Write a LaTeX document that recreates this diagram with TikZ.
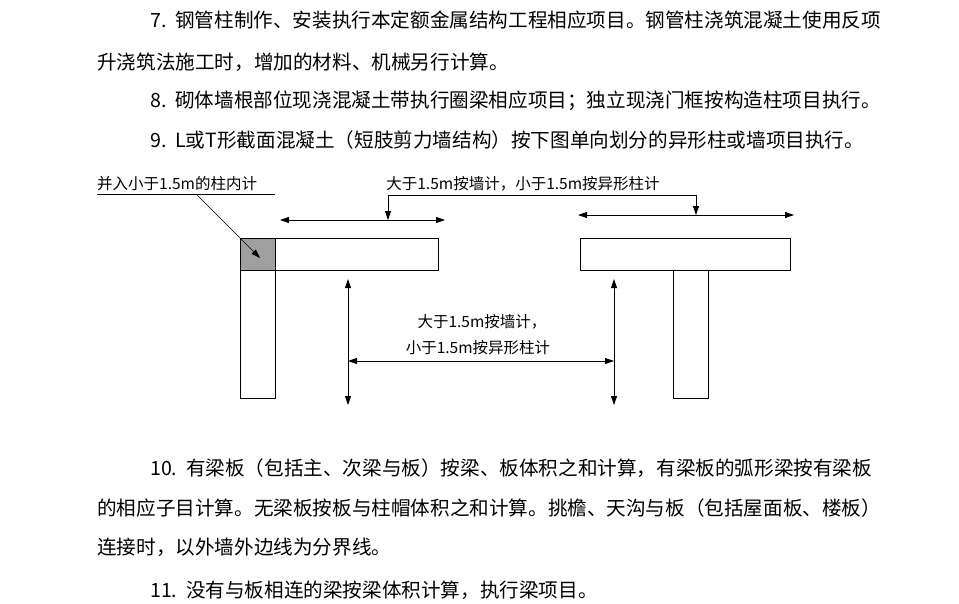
\documentclass[tikz,border=0pt]{standalone}
\usepackage{fontspec}
\setmainfont{Noto Sans CJK SC}
\usetikzlibrary{arrows.meta}
\begin{document}
\begin{tikzpicture}[x=1pt,y=-1pt,
 body/.style={anchor=west,inner sep=0pt,font=\fontsize{19.6}{21}\selectfont},
 lab/.style={inner sep=0pt,font=\fontsize{15.5}{17}\selectfont},
 bar/.style={draw,line width=1pt,fill=white},
 arr/.style={-{Triangle[length=9pt,width=6pt]},line width=0.8pt},
 darr/.style={{Triangle[length=9pt,width=6pt]}-{Triangle[length=9pt,width=6pt]},line width=0.8pt}]
\useasboundingbox (0,0) rectangle (959,603);
\node[body] (p1) at (150,20) {7.\ \ 钢管柱制作、安装执行本定额金属结构工程相应项目。钢管柱浇筑混凝土使用反项};
\node[body] (p2) at (97,62) {升浇筑法施工时，增加的材料、机械另行计算。};
\node[body] (p3) at (150,101) {8.\ \ 砌体墙根部位现浇混凝土带执行圈梁相应项目；独立现浇门框按构造柱项目执行。};
\node[body] (p4) at (150,140) {9.\ \ L或T形截面混凝土（短肢剪力墙结构）按下图单向划分的异形柱或墙项目执行。};
\node[body] (p5) at (150,468) {10.\ \ 有梁板（包括主、次梁与板）按梁、板体积之和计算，有梁板的弧形梁按有梁板};
\node[body] (p6) at (97,508) {的相应子目计算。无梁板按板与柱帽体积之和计算。挑檐、天沟与板（包括屋面板、楼板）};
\node[body] (p7) at (97,547) {连接时，以外墙外边线为分界线。};
\node[body] (p8) at (150,590) {11.\ \ 没有与板相连的梁按梁体积计算，执行梁项目。};
% L shape
\draw[bar] (240,270) rectangle (275,398);
\draw[bar] (275,238) rectangle (438,270);
\draw[bar,fill=gray!75] (240,238) rectangle (275,270);
% T shape
\draw[bar] (673,270) rectangle (708,398);
\draw[bar] (580,238) rectangle (790,270);
% labels
\node[lab,anchor=south west] (la) at (97,191) {并入小于1.5m的柱内计};
\draw (97,194) -- (275,194);
\coordinate (lead) at (196,194);
\coordinate (gtarget) at (260,258);
\draw[arr,line width=0.6pt] (lead) -- (gtarget);
\node[lab,anchor=south] (lb) at (523,191) {大于1.5m按墙计，小于1.5m按异形柱计};
\coordinate (u1) at (388,195); \coordinate (u2) at (696,195);
\draw (u1) -- (u2);
\coordinate (a1l) at (280,220); \coordinate (a1r) at (445,220);
\coordinate (a2l) at (578,215); \coordinate (a2r) at (794,215);
\draw[darr] (a1l) -- (a1r);
\draw[darr] (a2l) -- (a2r);
\draw[arr] (u1) -- (388,220);
\draw[arr] (u2) -- (696,215);
% lower
\coordinate (v1t) at (348,279); \coordinate (v1b) at (348,405);
\coordinate (v2t) at (614,279); \coordinate (v2b) at (614,405);
\draw[darr] (v1t) -- (v1b);
\draw[darr] (v2t) -- (v2b);
\draw[darr] (348,361) -- (614,361);
\node[lab] (lc) at (482,322) {大于1.5m按墙计，};
\node[lab] (ld) at (478,348) {小于1.5m按异形柱计};
\end{tikzpicture}
\end{document}
